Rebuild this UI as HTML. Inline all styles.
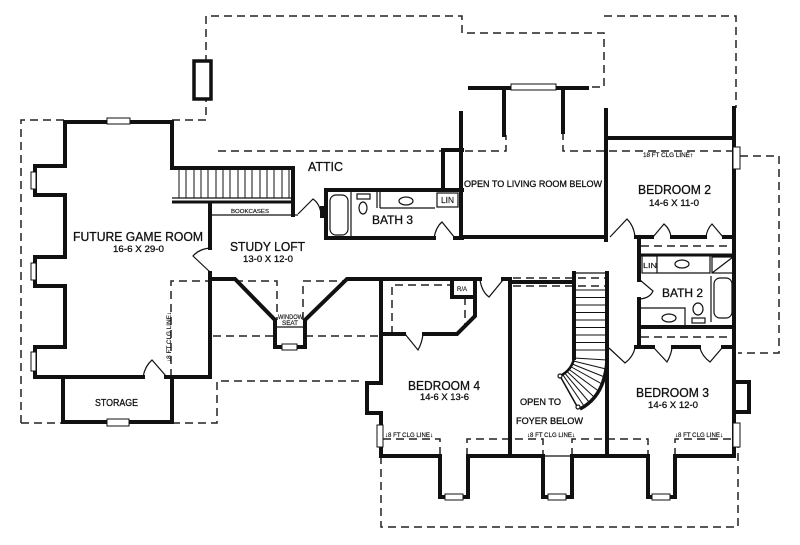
<!DOCTYPE html>
<html><head><meta charset="utf-8"><style>
html,body{margin:0;padding:0;background:#fff;}
svg{display:block;}
text{font-family:"Liberation Sans",Arial,sans-serif;fill:#111;stroke:#111;stroke-width:0.3;}
text.s{stroke-width:0.15;}
</style></head><body>
<svg width="800" height="545" viewBox="0 0 800 545" xmlns="http://www.w3.org/2000/svg">
<rect width="800" height="545" fill="#fff"/>

<!-- dashed outlines -->
<g fill="none" stroke="#222" stroke-width="1.5" stroke-dasharray="8 5">
<path d="M21,423 L21,120 L65,120"/>
<path d="M172,120 L206,120 L206,16 L462,16 L462,33 L604,33 L604,87 L587,87"/>
<path d="M604,16 L736,16 L736,108"/>
<path d="M218,151 L506,151 L506,135"/>
<path d="M563,132 L563,151 L734,151"/>
<path d="M740,156 L779,156 L779,353 L738,353"/>
<path d="M21,423 L63,423"/>
<path d="M172,423 L217,423 L217,381 L363,381"/>
<path d="M171,377 L171,281 L210,281"/>
<path d="M235,281 L277,281 L277,320"/>
<path d="M303,320 L303,281 L345,281"/>
<path d="M213,336 L275,336"/>
<path d="M305,336 L380,336"/>
<path d="M381,456 L381,527 L738,527 L738,447"/>
<path d="M383,439 L440,439 L440,456"/>
<path d="M467,456 L467,439 L543,439 L543,456"/>
<path d="M572,456 L572,439 L648,439 L648,456"/>
<path d="M675,456 L675,439 L733,439"/>
<path d="M392,334 L392,285 L452,285"/>
<path d="M465,297 L465,325"/>
<path d="M513,278 L607,278"/>
<path d="M513,286 L607,286"/>
<path d="M641,246 L733,246"/>
<path d="M641,337 L733,337"/>
</g>

<!-- chimney -->
<rect x="194" y="61" width="17" height="38" fill="#fff" stroke="#111" stroke-width="3.5"/>

<!-- walls -->
<g fill="none" stroke="#111" stroke-width="4" stroke-linecap="square" stroke-linejoin="miter">
<path d="M172,168 L172,122 L65,122 L65,166 L35,166 L35,195 L65,195 L65,257 L35,257 L35,286 L65,286 L65,347 L35,347 L35,377 L143,377"/>
<path d="M166,377 L210,377 L210,273"/>
<path d="M210,248 L210,205"/>
<path d="M63,377 L63,422 L172,422 L172,377"/>
<path d="M172,168 L293,168 L293,215"/>
<path d="M322,208 L322,216"/>
<path d="M326,190 L462,190"/>
<path d="M326,190 L326,238 L434,238"/>
<path d="M455,238 L462,238"/>
<path d="M443,190 L443,150 L462,150"/>
<path d="M461,113 L461,238"/>
<path d="M461,237 L606,237"/>
<path d="M606,110 L606,240"/>
<path d="M470,88 L587,88"/>
<path d="M504,88 L504,135"/>
<path d="M563,88 L563,132"/>
<path d="M606,138 L734,138"/>
<path d="M734,108 L734,456"/>
<path d="M636,237 L652,237"/>
<path d="M672,237 L705,237"/>
<path d="M724,237 L734,237"/>
<path d="M639,237 L639,280"/>
<path d="M639,299 L639,347"/>
<path d="M639,327 L734,327"/>
<path d="M636,347 L653,347"/>
<path d="M673,347 L699,347"/>
<path d="M723,347 L734,347"/>
<path d="M734,382 L749,382 L749,412 L734,412"/>
<path d="M381,279 L480,279"/>
<path d="M381,279 L381,383 L367,383 L367,413 L381,413 L381,456 L440,456 L440,497 L468,497 L468,456 L543,456 L543,497 L572,497 L572,456 L648,456 L648,497 L675,497 L675,456 L734,456"/>
<path d="M381,334 L404,334"/>
<path d="M424,334 L457,334 L475,316 L475,297"/>
<path d="M452,279 L452,297 L475,297 L475,279"/>
<path d="M210,279 L235,279 L275,320 L275,347 L305,347 L305,320 L347,279 L382,279"/>
<path d="M510,279 L510,456"/>
<path d="M503,279 L510,279"/>
<path d="M510,282 L574,282"/>
<path d="M574,273 L574,358"/>
<path d="M607,273 L607,456"/>
</g>
<g fill="none" stroke="#111" stroke-width="3">
<path d="M639,255 L734,255"/>
<path d="M172,202 L293,202"/>
</g>

<!-- thin lines -->
<g fill="none" stroke="#111" stroke-width="1.2">
<path d="M172,198 L293,198"/>
<path d="M210,215 L298,215"/>
<path d="M277,327 L303,327"/>
<path d="M574,273 L607,273"/>
<path d="M543,456 L572,456"/>
</g>
<!-- game room stair treads -->
<g stroke="#111" stroke-width="1">
<path d="M179,168V198M186,168V198M194,168V198M201,168V198M208,168V198M216,168V198M223,168V198M230,168V198M238,168V198M245,168V198M252,168V198M260,168V198M267,168V198M274,168V198M282,168V198M289,168V198"/>
</g>

<!-- foyer stair -->
<g stroke="#111" stroke-width="1" fill="none">
<path d="M574,290H607M574,297.5H607M574,305H607M574,312.5H607M574,320H607M574,327.5H607M574,335H607M574,342.5H607M574,350H607"/>
<path d="M574,358 L607,360"/>
<path d="M573.4,361 L606,369"/>
<path d="M572.2,364 L604.5,377"/>
<path d="M570.5,366.5 L602,384"/>
<path d="M568.5,369 L598.5,391"/>
<path d="M566.5,371 L594,397"/>
<path d="M564.5,372.8 L589,402"/>
<path d="M562.5,374.3 L584,406"/>
</g>
<path d="M574,358 Q572,370 560,376" fill="none" stroke="#111" stroke-width="2.5"/>
<path d="M607,360 Q605,396 580,409" fill="none" stroke="#111" stroke-width="3.5"/>
<path d="M560,376 L578,408" fill="none" stroke="#111" stroke-width="1.5"/>
<circle cx="560" cy="376" r="2" fill="#fff" stroke="#111" stroke-width="1.2"/>
<circle cx="578" cy="407" r="2" fill="#fff" stroke="#111" stroke-width="1.2"/>

<!-- doors -->
<g fill="none" stroke="#111" stroke-width="1.2">
<path d="M610,237 L627,219 Q634,226 635,237"/>
<path d="M653,237 L664,224 Q670,229 671,237"/>
<path d="M706,237 Q707,229 712,224 L723,237"/>
<path d="M298,214 L313,199 Q320,204 321,214"/>
<path d="M434,238 Q436,227 442,222 L455,238"/>
<path d="M640,280 L653,291 Q650,298 640,299"/>
<path d="M609,348 L625,363 Q633,357 635,348"/>
<path d="M654,348 L667,362 Q671,355 672,348"/>
<path d="M700,348 Q702,356 710,362 L722,348"/>
<path d="M480,280 Q482,292 489,297 L503,280"/>
<path d="M405,334 L418,350 Q422,343 423,334"/>
<path d="M143,377 Q145,366 152,360 L166,376"/>
<path d="M210,248 Q199,249 193,256 L210,272"/>
</g>

<!-- bath 3 fixtures -->
<g fill="none" stroke="#111" stroke-width="1.2">
<rect x="330" y="195" width="18" height="40" rx="6"/>
<path d="M351,192 V236"/>
<rect x="357" y="194" width="13" height="5"/>
<ellipse cx="363" cy="208" rx="4" ry="6"/>
<path d="M377,192 V208 M380,192 V208 M380,208 H435"/>
<ellipse cx="406" cy="201" rx="7" ry="4"/>
<rect x="437" y="193" width="21" height="14"/>
</g>
<!-- bath 2 fixtures -->
<g fill="none" stroke="#111" stroke-width="1.2">
<rect x="642" y="256" width="15" height="17"/>
<path d="M657,273 H710 V256"/>
<ellipse cx="682" cy="264" rx="7" ry="4"/>
<rect x="712" y="257" width="21" height="16"/>
<path d="M712,273 L733,257"/>
<rect x="714" y="278" width="18" height="40" rx="6"/>
<path d="M711,276 V322"/>
<path d="M641,308 H685 V326"/>
<ellipse cx="669" cy="318" rx="7" ry="4"/>
<rect x="692" y="318" width="13" height="5"/>
<ellipse cx="698" cy="309" rx="5" ry="6"/>
</g>

<!-- windows -->
<g fill="#fff" stroke="#111" stroke-width="1">
<rect x="107" y="118" width="23" height="6"/>
<rect x="31" y="172" width="5" height="17"/>
<rect x="31" y="263" width="5" height="17"/>
<rect x="31" y="352" width="5" height="19"/>
<rect x="107" y="419" width="22" height="7"/>
<rect x="282" y="344" width="15" height="6"/>
<rect x="511" y="84" width="45" height="6"/>
<rect x="733" y="147" width="7" height="22"/>
<rect x="733" y="423" width="7" height="24"/>
<rect x="377" y="425" width="6" height="22"/>
<rect x="445" y="494" width="18" height="6"/>
<rect x="548" y="494" width="18" height="6"/>
<rect x="652" y="494" width="18" height="6"/>
</g>

<!-- labels -->
<text x="73" y="241" font-size="13" textLength="130" lengthAdjust="spacingAndGlyphs">FUTURE GAME ROOM</text>
<text x="113" y="252" font-size="9.5" textLength="51" lengthAdjust="spacingAndGlyphs">16-6 X 29-0</text>
<text x="230" y="251" font-size="13" textLength="75" lengthAdjust="spacingAndGlyphs">STUDY LOFT</text>
<text x="243" y="262" font-size="9.5" textLength="50" lengthAdjust="spacingAndGlyphs">13-0 X 12-0</text>
<text x="308" y="171" font-size="12.5" textLength="35" lengthAdjust="spacingAndGlyphs">ATTIC</text>
<text class="s" x="231" y="213" font-size="5.5" textLength="38" lengthAdjust="spacingAndGlyphs">BOOKCASES</text>
<text x="372" y="224" font-size="12" textLength="41" lengthAdjust="spacingAndGlyphs">BATH 3</text>
<text class="s" x="441" y="203" font-size="8" textLength="13" lengthAdjust="spacingAndGlyphs">LIN</text>
<text x="464" y="187" font-size="9.5" textLength="138" lengthAdjust="spacingAndGlyphs">OPEN TO LIVING ROOM BELOW</text>
<text class="s" x="643" y="157" font-size="6" textLength="50" lengthAdjust="spacingAndGlyphs">18 FT CLG LINE↑</text>
<text x="638" y="194" font-size="13" textLength="73" lengthAdjust="spacingAndGlyphs">BEDROOM 2</text>
<text x="649" y="206" font-size="9.5" textLength="50" lengthAdjust="spacingAndGlyphs">14-6 X 11-0</text>
<text class="s" x="643" y="268" font-size="7.5" textLength="14" lengthAdjust="spacingAndGlyphs">LIN</text>
<text x="662" y="297" font-size="12" textLength="41" lengthAdjust="spacingAndGlyphs">BATH 2</text>
<text class="s" x="457" y="291" font-size="6" textLength="10" lengthAdjust="spacingAndGlyphs">R/A</text>
<text x="408" y="390" font-size="13" textLength="72" lengthAdjust="spacingAndGlyphs">BEDROOM 4</text>
<text x="420" y="400" font-size="9.5" textLength="49" lengthAdjust="spacingAndGlyphs">14-6 X 13-6</text>
<text x="520" y="405" font-size="9.5" textLength="41" lengthAdjust="spacingAndGlyphs">OPEN TO</text>
<text x="516" y="424" font-size="9.5" textLength="67" lengthAdjust="spacingAndGlyphs">FOYER BELOW</text>
<text x="636" y="397" font-size="13" textLength="73" lengthAdjust="spacingAndGlyphs">BEDROOM 3</text>
<text x="648" y="408" font-size="9.5" textLength="50" lengthAdjust="spacingAndGlyphs">14-6 X 12-0</text>
<text x="95" y="406" font-size="10.5" textLength="43" lengthAdjust="spacingAndGlyphs">STORAGE</text>
<text class="s" x="278" y="319" font-size="6" textLength="25" lengthAdjust="spacingAndGlyphs">WINDOW</text>
<text class="s" x="282" y="325" font-size="6" textLength="16" lengthAdjust="spacingAndGlyphs">SEAT</text>
<text class="s" x="385" y="437" font-size="6" textLength="48" lengthAdjust="spacingAndGlyphs">↓8 FT CLG LINE↓</text>
<text class="s" x="527" y="437" font-size="6" textLength="48" lengthAdjust="spacingAndGlyphs">↓8 FT CLG LINE↓</text>
<text class="s" x="675" y="437" font-size="6" textLength="48" lengthAdjust="spacingAndGlyphs">↓8 FT CLG LINE↓</text>
<text class="s" x="0" y="0" font-size="6" textLength="50" lengthAdjust="spacingAndGlyphs" transform="translate(171,362) rotate(-90)">↓8 FT CLG LINE↓</text>
</svg>
</body></html>
